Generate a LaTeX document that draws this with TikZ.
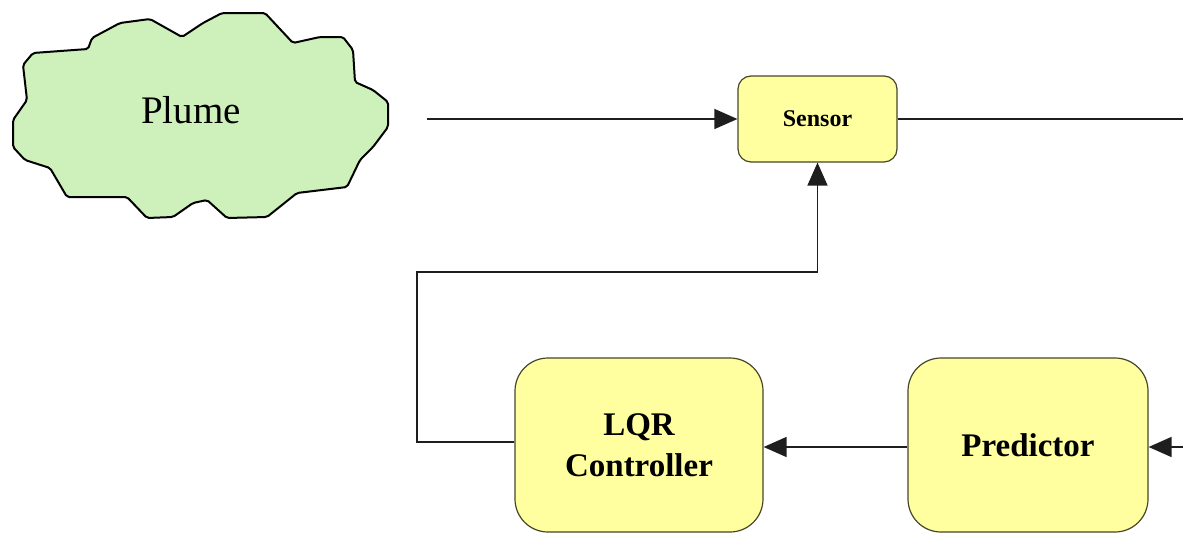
\documentclass[tikz,border=0pt]{standalone}
\usepackage{fontspec}
\setmainfont{Liberation Serif}
\usetikzlibrary{arrows.meta}
\definecolor{boxfill}{RGB}{255,255,160}
\definecolor{boxline}{RGB}{70,70,40}
\definecolor{cloudfill}{RGB}{206,240,186}
\definecolor{wire}{RGB}{30,30,30}
\begin{document}
\begin{tikzpicture}[x=1pt,y=-1pt,
  blockbox/.style={draw=boxline,line width=1.2pt,fill=boxfill,rounded corners=33pt,
     minimum width=248pt,minimum height=174pt,align=center,inner sep=0pt,
     font=\bfseries\fontsize{33}{41}\selectfont},
  smallbox/.style={draw=boxline,line width=1.2pt,fill=boxfill,rounded corners=13pt,
     minimum width=159pt,minimum height=86pt,inner sep=0pt,
     font=\bfseries\fontsize{24}{28}\selectfont},
  wireline/.style={draw=wire,line width=1.5pt},
  arr/.style={wireline,-{Triangle[length=23pt,width=20pt]}}]
\useasboundingbox (0,0) rectangle (1183,533);
% cloud
\draw[fill=cloudfill,line width=2pt,rounded corners=2pt]
  (23,65) -- (33,53) -- (88,49) -- (92,38) -- (120,23) -- (150,19) -- (182,37)
  -- (203,23) -- (222,13) -- (265,13) -- (293,43) -- (320,37) -- (343,37)
  -- (353,50) -- (355,82) -- (373,90) -- (388,102) -- (388,127) -- (373,147)
  -- (360,160) -- (347,187) -- (297,193) -- (267,217) -- (227,218) -- (207,200)
  -- (193,203) -- (173,217) -- (147,218) -- (127,197) -- (67,197) -- (50,168)
  -- (25,160) -- (13,147) -- (13,120) -- (27,100) -- cycle;
\node[anchor=base,font=\fontsize{39}{45}\selectfont,inner sep=0pt] (plume) at (191,123) {Plume};
% blocks
\node[smallbox] (sensor) at (817.5,119) {Sensor};
\node[blockbox] (lqr) at (639,445) {LQR\\Controller};
\node[blockbox,minimum width=240pt] (pred) at (1028,445) {Predictor};
% coordinates
\coordinate (plumeout) at (427,119);
\coordinate (sensout) at (1183,119);
\coordinate (predin) at (1183,447);
\coordinate (fbcorner) at (417,272);
% connectors
\draw[arr] (plumeout) -- (sensor.west);
\draw[wireline] (sensor.east) -- (sensout);
\draw[arr] (predin) -- (pred.east |- predin);
\draw[arr] (pred.west |- predin) -- (lqr.east |- predin);
\draw[arr] ([yshift=3pt]lqr.west) -| (fbcorner) -| (sensor.south);
\end{tikzpicture}
\end{document}
